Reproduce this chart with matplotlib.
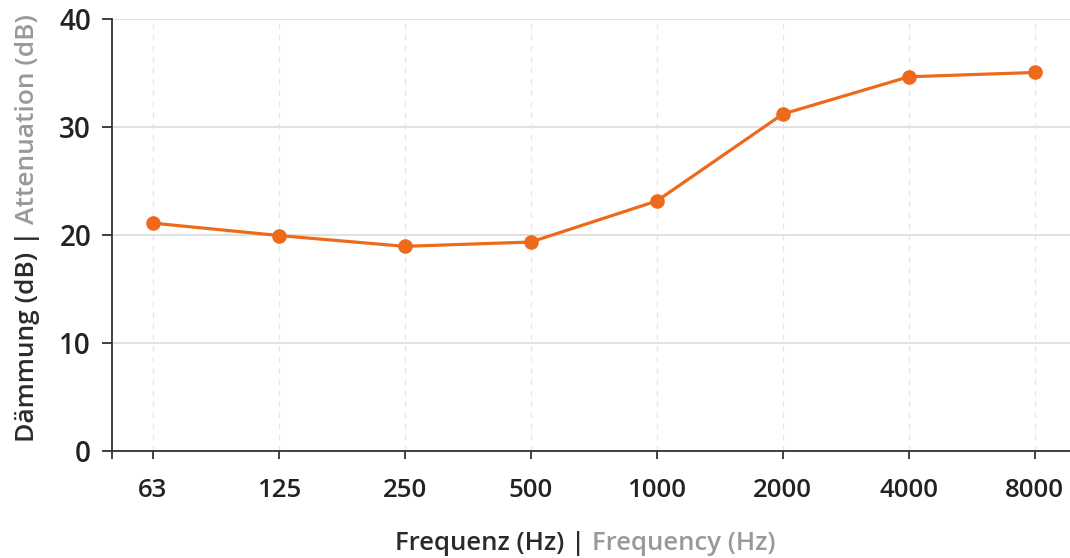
import matplotlib
matplotlib.use("Agg")
import matplotlib.pyplot as plt
from matplotlib.ticker import FixedLocator

plt.rcParams['font.family'] = ['Open Sans', 'DejaVu Sans']

categories = ["63", "125", "250", "500", "1000", "2000", "4000", "8000"]
attenuation = [21.1, 19.95, 18.95, 19.35, 23.15, 31.2, 34.65, 35.05]
yticks = [0, 10, 20, 30, 40]

line_color = '#EE6A1B'
dark = '#333333'
gray = '#999999'

fig = plt.figure(figsize=(10.70, 5.58), dpi=100)
ax = fig.add_axes([112/1070, (558-451)/558, (1070-112)/1070, (451-19)/558])

x = list(range(len(categories)))
ax.plot(x, attenuation, color=line_color, lw=2.3, marker='o', ms=9.5, zorder=3,
        clip_on=False)

ax.set_xlim(-0.325, 7.28)
ax.set_ylim(0, 40)
ax.set_xticks(x)
ax.set_xticklabels(categories)
ax.set_yticks(yticks)
ax.xaxis.set_minor_locator(FixedLocator([-0.325]))

ax.grid(axis='y', color='#dcdcdc', lw=1.2, ls='-')
ax.grid(axis='x', color='#e6e6e6', lw=1.0, ls=(0, (4, 4)))
ax.set_axisbelow(True)

for s in ['top', 'right']:
    ax.spines[s].set_visible(False)
for s in ['left', 'bottom']:
    ax.spines[s].set_color(dark)
    ax.spines[s].set_linewidth(1.3)

ax.tick_params(axis='y', length=7, width=1.3, color=dark, pad=8,
               labelsize=20, labelcolor='#222222')
ax.tick_params(axis='x', which='both', length=5.5, width=1.3, color=dark, pad=14,
               labelsize=18.5, labelcolor='#222222')
for lab in ax.get_xticklabels() + ax.get_yticklabels():
    lab.set_fontweight('semibold')

# Two-coloured axis labels
fig.canvas.draw()
r = fig.canvas.get_renderer()
W, H = fig.get_size_inches() * fig.dpi

def multicolor(parts, cx, cy, rotation=0, size=16):
    texts = []
    for s, c in parts:
        t = fig.text(0, 0, s, color=c, fontsize=size, fontweight='semibold',
                     rotation=rotation, ha='left', va='center')
        texts.append(t)
    fig.canvas.draw()
    lens = []
    for t in texts:
        bb = t.get_window_extent(renderer=r)
        lens.append(bb.width if rotation == 0 else bb.height)
    total = sum(lens)
    pos = (cx if rotation == 0 else cy) - total / 2
    for t, L in zip(texts, lens):
        if rotation == 0:
            t.set_position((pos / W, cy / H))
            t.set_ha('left')
        else:
            t.set_position((cx / W, pos / H))
            t.set_va('bottom')
            t.set_ha('center')
        pos += L

multicolor([("Frequenz (Hz) | ", '#2a2a2a'), ("Frequency (Hz)", gray)],
           585, 558 - 543, rotation=0, size=18.5)
multicolor([("Dämmung (dB) | ", '#2a2a2a'), ("Attenuation (dB)", gray)],
           28, 558 - 228, rotation=90, size=19)

fig.savefig('out.png', dpi=100)
